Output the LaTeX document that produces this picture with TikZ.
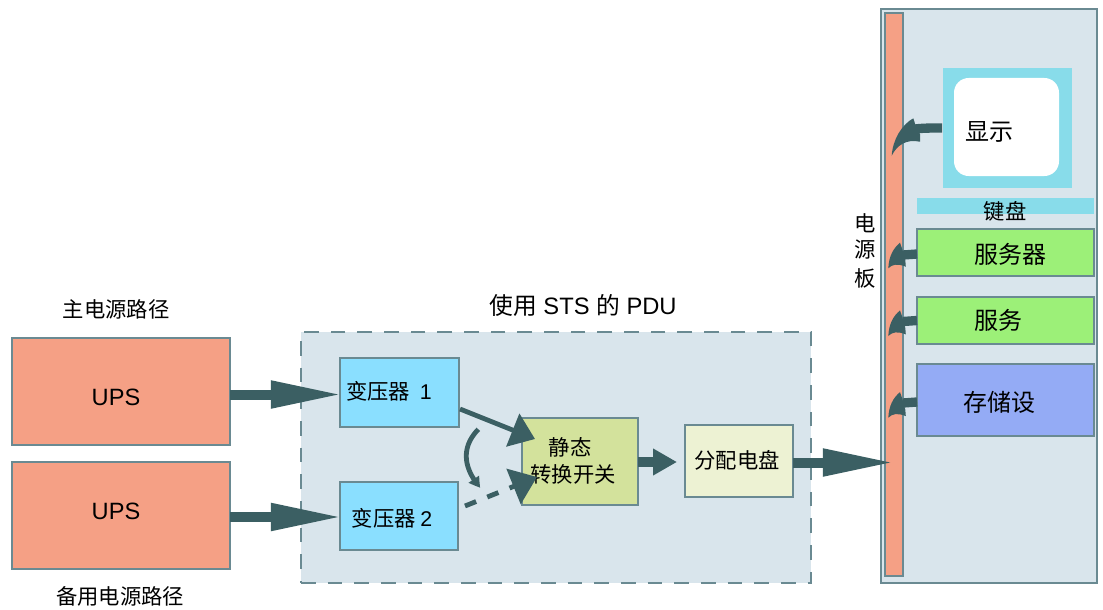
\documentclass[tikz,border=0pt]{standalone}
\usepackage{fontspec}
\setmainfont{Liberation Sans}
\newfontfamily\cjk{Noto Sans CJK SC}
\usetikzlibrary{arrows.meta,bending}
\definecolor{edgec}{HTML}{6A8A92}
\definecolor{arrowc}{HTML}{3B5F63}
\definecolor{panelc}{HTML}{D9E5EC}
\definecolor{orangec}{HTML}{F5A085}
\definecolor{bluec}{HTML}{8ADFFF}
\definecolor{cyanc}{HTML}{88DCEA}
\definecolor{stsc}{HTML}{D3E29C}
\definecolor{pduc}{HTML}{EDF2D3}
\definecolor{greenc}{HTML}{9CF078}
\definecolor{violetc}{HTML}{94ABF5}
\tikzset{
  base/.style={inner sep=0pt,outer sep=0pt,align=center},
  frame/.style={base,draw=edgec,line width=1pt},
  plain/.style={base,font=\cjk\fontsize{16}{19}\selectfont},
  big/.style={base,font=\cjk\fontsize{18}{21}\selectfont},
  latin/.style={base,font=\fontsize{17.7}{20}\selectfont},
  fat/.style={arrowc,line width=7.5pt,shorten >=-3.7pt,-{Triangle[length=54pt,width=19pt]}},
  mid/.style={arrowc,line width=7.5pt,-{Triangle[length=18pt,width=19pt]}},
  thinarrow/.style={arrowc,line width=3.6pt,-{Triangle[length=18pt,width=26pt]}},
  dasharrow/.style={arrowc,line width=3.6pt,dash pattern=on 9pt off 9pt,-{Triangle[length=19pt,width=28pt]}},
  hook/.style={arrowc,line width=3.6pt,-{Triangle[length=8pt,width=9pt,bend]}},
  sweepshaft/.style={arrowc,line width=7pt},
  headfill/.style={fill=arrowc,draw=none},
}
\newcommand{\bx}[7]{%
  \pgfmathsetmacro{\cxv}{(#3+#5)/2}\pgfmathsetmacro{\cyv}{(#4+#6)/2}%
  \pgfmathsetmacro{\wv}{(#5-#3)*0.75}\pgfmathsetmacro{\hv}{(#6-#4)*0.75}%
  \node[#2,minimum width=\wv pt,minimum height=\hv pt] (#1) at (\cxv,\cyv) {#7};}
% small swept head with its tip at a named coordinate
\newcommand{\smallhead}[1]{%
  \fill[headfill,shift={(#1)}] (0,0) .. controls (0.5,-12) and (5,-20) .. (11.7,-25.6)
    -- (14,-19) -- (17,-8) -- (17.5,-1.6) .. controls (9,-5) and (4,-4) .. (0,0) -- cycle;}
\begin{document}
\begin{tikzpicture}[x=0.75pt,y=-0.75pt]
\useasboundingbox (0,0) rectangle (1103,610);
% left sources
\bx{ups1}{frame,fill=orangec}{12}{338}{230}{445}{}
\node[latin] (lu1) at (116,397) {UPS};
\bx{ups2}{frame,fill=orangec}{12}{462}{230}{569}{}
\node[latin] (lu2) at (116,511) {UPS};
\node[plain] (lmain) at (116,309) {主电源路径};
\node[plain] (lback) at (120,596) {备用电源路径};
% PDU container
\bx{cont}{base,fill=panelc,draw=edgec,line width=1.4pt,dash pattern=on 11pt off 9pt}{301}{332}{811}{583}{}
\node[base,font=\fontsize{17.8}{20}\selectfont] (ltitle) at (583,305) {{\cjk 使用} STS {\cjk 的} PDU};
\bx{t1}{frame,fill=bluec,plain}{340}{358}{459}{427}{}
\node[plain] (lt1) at (389,391) {变压器\ \ \fontspec{Liberation Sans}1};
\bx{t2}{frame,fill=bluec,plain}{340}{482}{458}{550}{}
\node[plain] (lt2) at (392,518) {变压器 \fontspec{Liberation Sans}2};
\bx{sts}{frame,fill=stsc}{522}{418}{638}{505}{}
\node[plain] (ls1) at (570,447) {静态};
\node[plain] (ls2) at (573,474) {转换开关};
\bx{pdu}{frame,fill=pduc}{685}{425}{793}{497}{}
\node[plain] (lpdu) at (737,460) {分配电盘};
% right rack
\bx{rack}{frame,fill=panelc}{881}{9}{1097}{583}{}
\bx{bus}{frame,fill=orangec}{885}{13}{903}{576}{}
\bx{mon}{base,fill=cyanc}{943}{68}{1072}{188}{}
\bx{scr}{base,fill=white,rounded corners=11pt}{954}{78}{1059}{176}{}
\node[big] (lscr) at (989,132) {显示};
\bx{kb}{base,fill=cyanc}{917}{198}{1094}{214}{}
\node[plain] (lkb) at (1005,211) {键盘};
\bx{srv}{frame,fill=greenc}{917}{229}{1094}{276}{}
\node[big] (lsrv) at (1010,254) {服务器};
\bx{svc}{frame,fill=greenc}{917}{297}{1094}{344}{}
\node[big] (lsvc) at (998,320) {服务};
\bx{sto}{frame,fill=violetc}{917}{364}{1094}{436}{}
\node[big] (lsto) at (999,402) {存储设};
\node[plain] (lb1) at (865,223) {电};
\node[plain] (lb2) at (865,250) {源};
\node[plain] (lb3) at (865,278) {板};
% free ends
\coordinate (u1out) at (230,394.5);
\coordinate (t1in) at (338,394.5);
\coordinate (u2out) at (230,517);
\coordinate (t2in) at (338,517);
\coordinate (stsout) at (638,462);
\coordinate (pdua) at (677,462);
\coordinate (pduout) at (793,462.5);
\coordinate (busin) at (890,462.5);
\coordinate (t1out) at (460,409);
\coordinate (t2out) at (465,506);
\coordinate (stsa) at (535,439);
\coordinate (stsb) at (537,477);
\coordinate (swa) at (478.3,429.3);
\coordinate (swb) at (480.3,487.7);
\coordinate (monout) at (942,128);
\coordinate (mondrop) at (912,129.5);
\coordinate (busm) at (891.7,155.7);
\coordinate (srvout) at (917,254);
\coordinate (srvdrop) at (903,255);
\coordinate (buss) at (888.3,268.3);
\coordinate (svcout) at (917,320.5);
\coordinate (svcdrop) at (903,321.5);
\coordinate (busv) at (888.3,336);
\coordinate (stoout) at (917,402);
\coordinate (stodrop) at (903,403);
\coordinate (bust) at (888.3,417.7);
% connectors
\draw[fat] (u1out) -- (t1in);
\draw[fat] (u2out) -- (t2in);
\draw[mid] (stsout) -- (pdua);
\draw[fat] (pduout) -- (busin);
\draw[thinarrow] (t1out) -- (stsa);
\draw[dasharrow] (t2out) -- (stsb);
\draw[hook] (swa) .. controls (461,447) and (463,468) .. (swb);
\draw[sweepshaft] (monout) .. controls (930,128) and (920,128) .. (mondrop);
\fill[headfill,shift={(busm)}] (0,0) .. controls (1,-16) and (10,-31) .. (21.6,-37.4)
  -- (23.5,-31.5) -- (28.3,-21.5) -- (28.3,-14) .. controls (14,-17) and (5,-10) .. (0,0) -- cycle;
\draw[sweepshaft] (srvout) -- (srvdrop);
\smallhead{buss}
\draw[sweepshaft] (svcout) -- (svcdrop);
\smallhead{busv}
\draw[sweepshaft] (stoout) -- (stodrop);
\smallhead{bust}
\end{tikzpicture}
\end{document}
